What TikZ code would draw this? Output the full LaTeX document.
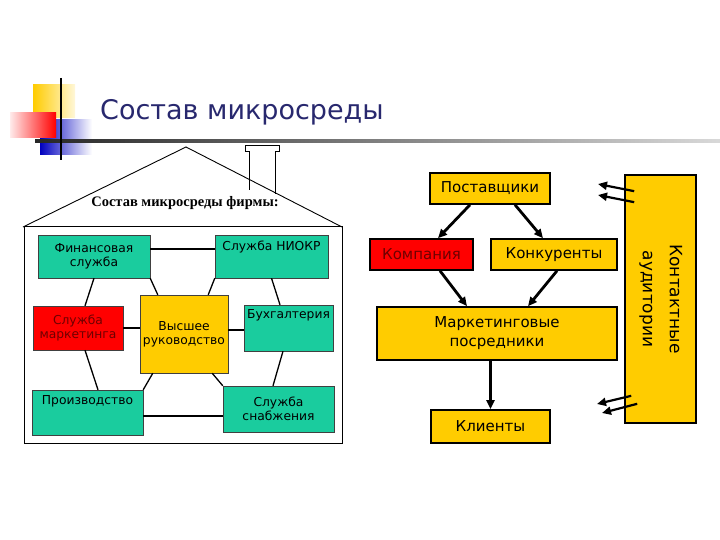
\documentclass[tikz,border=0pt]{standalone}
\usepackage{fontspec}
\setmainfont{DejaVu Sans}
\newfontfamily\housefont{Liberation Serif}
\usepackage{graphicx}
\usetikzlibrary{arrows.meta}
\definecolor{boxteal}{RGB}{26,204,158}
\definecolor{boxgold}{RGB}{255,204,0}
\definecolor{boxred}{RGB}{255,0,0}
\definecolor{darkred}{RGB}{110,0,0}
\definecolor{titleblue}{RGB}{40,40,110}
\tikzset{%
  tipA/.tip={Triangle[length=9pt,width=8pt]},
  dept/.style={draw=black!75, fill=boxteal, font=\fontsize{12.3}{14}\selectfont, align=center, inner sep=1pt},
  outer/.style={draw=black, line width=1.6pt, fill=boxgold, font=\fontsize{15}{19}\selectfont, align=center, inner sep=1pt},
  link/.style={line width=1.3pt},
  flow/.style={line width=2.8pt, -tipA}
}
\begin{document}
\begin{tikzpicture}[x=1pt,y=-1pt]
	\useasboundingbox (0,0) rectangle (720,540);
	% logo
	\fill[left color=boxgold, right color=boxgold!15] (33,85) rectangle (75,118);
	\fill[left color=blue!75!black, right color=white] (40,120) rectangle (92,155);
	\fill[left color=red!8, right color=boxred] (10,113) rectangle (56,138);
	\fill[left color=black!85, right color=black!15] (35,139.5) rectangle (720,142.5);
	\draw[line width=2pt] (61,78) -- (61,160);
	\node[anchor=base west, inner sep=0pt, text=titleblue, font=\fontsize{27}{30}\selectfont] (title) at (100,120) {Состав микросреды};
	% house
	\draw[line width=0.9pt, fill=white] (249,190) -- (249,151) -- (245,151) -- (245,145) -- (279,145) -- (279,151) -- (275,151) -- (275,194);
	\draw[line width=0.9pt] (23,227) -- (186,147) -- (342,227);
	\draw[line width=1pt] (24,227) rectangle (342,443);
	\node[font=\housefont\bfseries\fontsize{14.5}{16}\selectfont] (firm) at (185,203) {Состав микросреды фирмы:};
	\node[dept, minimum width=112, minimum height=43] (fin) at (94,256.5) {Финансовая\\служба};
	\node[dept, minimum width=113, minimum height=43, text depth=22pt] (niokr) at (271.5,256.5) {Служба НИОКР};
	\node[dept, fill=boxred, text=darkred, minimum width=90, minimum height=44] (mark) at (78,328) {Служба\\маркетинга};
	\node[dept, fill=boxgold, minimum width=88, minimum height=78] (head) at (184,334) {Высшее\\руководство};
	\node[dept, minimum width=89, minimum height=46, text depth=27pt] (buh) at (288.5,328) {Бухгалтерия};
	\node[dept, minimum width=111, minimum height=45, text depth=25pt] (prod) at (87.5,412.5) {Производство};
	\node[dept, minimum width=111, minimum height=46] (snab) at (278.5,409) {Служба\\снабжения};
	\draw[link] ([yshift=7.5pt]fin.east) -- ([yshift=7.5pt]niokr.west);
	\draw[link] (fin.south) -- ([xshift=7pt]mark.north);
	\draw[link] (fin.south east) -- ([xshift=18pt]head.north west);
	\draw[link] (niokr.south west) -- ([xshift=-20pt]head.north east);
	\draw[link] (niokr.south) -- ([xshift=-8.5pt]buh.north);
	\draw[link] (mark.east) -- (mark.east -| head.west);
	\draw[link, line width=2pt] ([yshift=-2pt]buh.west) -- ([yshift=-2pt]buh.west -| head.east);
	\draw[link] ([xshift=7pt]mark.south) -- ([xshift=10.5pt]prod.north);
	\draw[link] ([xshift=13pt]head.south west) -- (prod.north east);
	\draw[link] ([xshift=-16pt]head.south east) -- (snab.north west);
	\draw[link] ([xshift=-5.5pt]buh.south) -- ([xshift=-5.5pt]snab.north);
	\draw[link, line width=2pt] ([yshift=-3.5pt]prod.east) -- ([yshift=-3.5pt]prod.east -| snab.west);
	% market
	\node[outer, minimum width=120, minimum height=31] (post) at (490,188.5) {Поставщики};
	\node[outer, fill=boxred, text=darkred, minimum width=103, minimum height=31] (komp) at (421.5,254.5) {Компания};
	\node[outer, minimum width=126, minimum height=31] (konk) at (554,254.5) {Конкуренты};
	\node[outer, minimum width=240, minimum height=53] (posr) at (497,333.5) {Маркетинговые\\посредники};
	\node[outer, minimum width=119, minimum height=33] (client) at (490.5,426.5) {Клиенты};
	\node[outer, font=\fontsize{17}{21}\selectfont, minimum width=71, minimum height=248] (kont) at (660.5,299) {\rotatebox{-90}{\begin{tabular}{@{}c@{}}Контактные\\[6pt]аудитории\end{tabular}}};
	\draw[flow] ([xshift=-20pt]post.south) -- ([xshift=16.5pt]komp.north);
	\draw[flow] ([xshift=25pt]post.south) -- ([xshift=-11pt]konk.north);
	\draw[flow] ([xshift=18.5pt]komp.south) -- ([xshift=-30pt]posr.north);
	\draw[flow] ([xshift=3pt]konk.south) -- ([xshift=31pt]posr.north);
	\draw[flow] (client.north |- posr.south) -- (client.north);
	\coordinate (outA) at (598,184);
	\coordinate (outB) at (598,195);
	\coordinate (outC) at (597,404);
	\coordinate (outD) at (602,413);
	\draw[flow, line width=2.2pt] ([xshift=10pt,yshift=-17pt]kont.north west) -- (outA);
	\draw[flow, line width=2.2pt] ([xshift=10pt,yshift=-28pt]kont.north west) -- (outB);
	\draw[flow, line width=2.2pt] ([xshift=7pt,yshift=28pt]kont.south west) -- (outC);
	\draw[flow, line width=2.2pt] ([xshift=13pt,yshift=20pt]kont.south west) -- (outD);
\end{tikzpicture}
\end{document}
